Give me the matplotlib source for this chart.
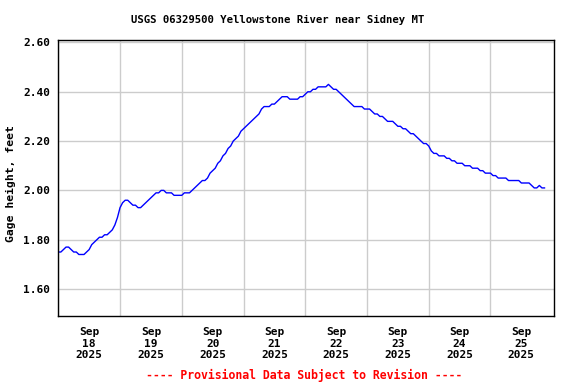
import matplotlib
matplotlib.use("Agg")
import matplotlib.pyplot as plt
import numpy as np

# Hourly gage height readings starting Sep 18 2025 00:00 (feet)
gage_height = [
    1.75, 1.75, 1.76, 1.77, 1.77, 1.76, 1.75, 1.75, 1.74, 1.74,
    1.74, 1.75, 1.76, 1.78, 1.79, 1.80, 1.81, 1.81, 1.82, 1.82,
    1.83, 1.84, 1.86, 1.89, 1.93, 1.95, 1.96, 1.96, 1.95, 1.94,
    1.94, 1.93, 1.93, 1.94, 1.95, 1.96, 1.97, 1.98, 1.99, 1.99,
    2.00, 2.00, 1.99, 1.99, 1.99, 1.98, 1.98, 1.98, 1.98, 1.99,
    1.99, 1.99, 2.00, 2.01, 2.02, 2.03, 2.04, 2.04, 2.05, 2.07,
    2.08, 2.09, 2.11, 2.12, 2.14, 2.15, 2.17, 2.18, 2.20, 2.21,
    2.22, 2.24, 2.25, 2.26, 2.27, 2.28, 2.29, 2.30, 2.31, 2.33,
    2.34, 2.34, 2.34, 2.35, 2.35, 2.36, 2.37, 2.38, 2.38, 2.38,
    2.37, 2.37, 2.37, 2.37, 2.38, 2.38, 2.39, 2.40, 2.40, 2.41,
    2.41, 2.42, 2.42, 2.42, 2.42, 2.43, 2.42, 2.41, 2.41, 2.40,
    2.39, 2.38, 2.37, 2.36, 2.35, 2.34, 2.34, 2.34, 2.34, 2.33,
    2.33, 2.33, 2.32, 2.31, 2.31, 2.30, 2.30, 2.29, 2.28, 2.28,
    2.28, 2.27, 2.26, 2.26, 2.25, 2.25, 2.24, 2.23, 2.23, 2.22,
    2.21, 2.20, 2.19, 2.19, 2.18, 2.16, 2.15, 2.15, 2.14, 2.14,
    2.14, 2.13, 2.13, 2.12, 2.12, 2.11, 2.11, 2.11, 2.10, 2.10,
    2.10, 2.09, 2.09, 2.09, 2.08, 2.08, 2.07, 2.07, 2.07, 2.06,
    2.06, 2.05, 2.05, 2.05, 2.05, 2.04, 2.04, 2.04, 2.04, 2.04,
    2.03, 2.03, 2.03, 2.03, 2.02, 2.01, 2.01, 2.02, 2.01, 2.01,
]
day_labels = ["Sep\n18\n2025", "Sep\n19\n2025", "Sep\n20\n2025", "Sep\n21\n2025",
              "Sep\n22\n2025", "Sep\n23\n2025", "Sep\n24\n2025", "Sep\n25\n2025"]
y_ticks = [1.60, 1.80, 2.00, 2.20, 2.40, 2.60]

hours = np.arange(len(gage_height))

font = "DejaVu Sans Mono"
fig = plt.figure(figsize=(5.76, 3.84), dpi=100)
ax = fig.add_axes([0.1012, 0.1771, 0.9623 - 0.1012, 0.8971 - 0.1771])

ax.plot(hours, gage_height, color="#0000ff", lw=1.0)

ax.set_xlim(0, 192.8)
ax.set_ylim(1.4905, 2.612)

ax.set_xticks(np.arange(0, 24 * 8, 24))
ax.set_xticklabels([])
ax.set_xticks(np.arange(12, 24 * 8, 24), minor=True)
ax.set_xticklabels(day_labels, minor=True, fontfamily=font, fontweight="bold", fontsize=8)
ax.set_yticks(y_ticks)
ax.set_yticklabels([f"{v:.2f}" for v in y_ticks], fontfamily=font, fontweight="bold", fontsize=8)
ax.tick_params(axis="both", which="both", length=0)
ax.tick_params(axis="x", which="minor", pad=8)
ax.tick_params(axis="y", pad=6)
ax.grid(True, which="major", color="#cccccc", lw=1.0)
ax.set_axisbelow(True)
for s in ax.spines.values():
    s.set_color("black")
    s.set_linewidth(1.0)

fig.text(0.482, 0.948, "USGS 06329500 Yellowstone River near Sidney MT",
         ha="center", va="center", fontfamily=font, fontweight="bold", fontsize=7.7)
fig.text(0.019, 0.523, "Gage height, feet", rotation=90, ha="center", va="center",
         fontfamily=font, fontweight="bold", fontsize=8.2)
fig.text(0.5275, 0.023, "---- Provisional Data Subject to Revision ----",
         ha="center", va="center", fontfamily=font, fontweight="bold", fontsize=8.3,
         color="#ff0000")

fig.savefig("out.png", dpi=100)
